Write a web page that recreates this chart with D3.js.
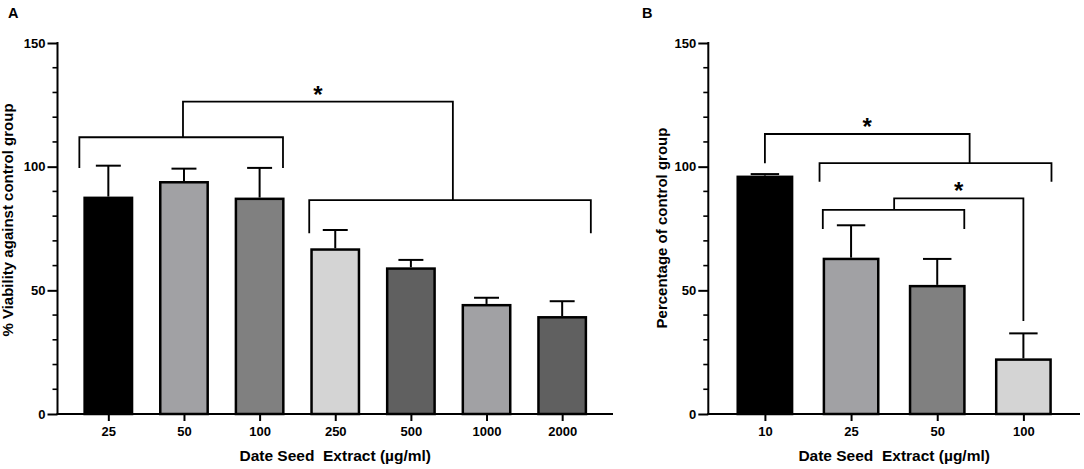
<!DOCTYPE html>
<html><head><meta charset="utf-8">
<script src="https://cdn.jsdelivr.net/npm/d3@7"></script>
<style>
html,body{margin:0;padding:0;background:#fff;}
svg{display:block;font-family:"Liberation Sans",Arial,sans-serif;font-weight:bold;}
</style></head>
<body>
<svg id="chart" width="1084" height="469"></svg>
<script>
// ---------- data ----------
const catsA = ["25","50","100","250","500","1000","2000"];
const meanA = [87.9, 94.2, 87.5, 67.0, 59.3, 44.5, 39.6];
const errA  = [12.5, 5.0, 12.0, 7.4, 3.0, 2.5, 6.0];
const colorsA = ["#000000","#a1a1a4","#808080","#d4d4d4","#606060","#a1a1a4","#606060"];

const catsB = ["10","25","50","100"];
const meanB = [96.4, 63.2, 52.2, 22.5];
const errB  = [0.6, 13.1, 10.5, 10.1];
const colorsB = ["#000000","#a1a1a4","#808080","#d4d4d4"];

const yTicks = [0, 50, 100, 150];
const yMinorTicks = [10,20,30,40,60,70,80,90,110,120,130,140];

// significance brackets: points as [category offset from first, value]
const bracketsA = [
  [[-0.383,99.5],[-0.383,111.9],[2.309,111.9],[2.309,99.5]],
  [[0.987,111.9],[0.987,126.3],[4.555,126.3],[4.555,86.5]],
  [[2.656,73.1],[2.656,86.5],[6.379,86.5],[6.379,73.1]]
];
const starsA = [[2.771,131.4]];
const bracketsB = [
  [[0,101.4],[0,113.2],[2.376,113.2],[2.376,101.4]],
  [[0.634,93.9],[0.634,101.4],[3.326,101.4],[3.326,93.9]],
  [[0.672,74.8],[0.672,82.5],[2.314,82.5],[2.314,74.8]],
  [[1.5,82.5],[1.5,87.2],[3,87.2],[3,37.6]]
];
const starsB = [[1.188,118.6],[2.25,92.6]];

const svg = d3.select("#chart");

function panel(opt){
  const g = svg.append("g");
  const x = d3.scalePoint().domain(opt.cats).range([opt.x0, opt.x1]).padding(opt.pad);
  const y = d3.scaleLinear().domain([0,150]).range([414,43]);
  const step = x.step();
  const bw = step*0.66;
  const xf = f => x(opt.cats[0]) + f*step;

  // error bars
  const eg = g.append("g");
  opt.cats.forEach((c,i)=>{
    const cx = x(c), top = y(opt.mean[i]+opt.err[i]);
    eg.append("line").attr("x1",cx).attr("x2",cx).attr("y1",y(opt.mean[i])).attr("y2",top)
      .attr("stroke","#000").attr("stroke-width",2);
    eg.append("line").attr("x1",cx-bw/4).attr("x2",cx+bw/4).attr("y1",top).attr("y2",top)
      .attr("stroke","#000").attr("stroke-width",2);
  });
  // bars
  g.append("g").selectAll("rect").data(opt.cats).join("rect")
    .attr("x",c=>x(c)-bw/2+1.25).attr("width",bw-2.5)
    .attr("y",(c,i)=>y(opt.mean[i])+1.25).attr("height",(c,i)=>y(0)-y(opt.mean[i])-1.25)
    .attr("fill",(c,i)=>opt.colors[i]).attr("stroke","#000").attr("stroke-width",2.5);

  // brackets
  const line = d3.line().x(d=>xf(d[0])).y(d=>y(d[1]));
  g.append("g").selectAll("path").data(opt.brackets).join("path")
    .attr("d",line).attr("fill","none").attr("stroke","#000").attr("stroke-width",1.8);
  g.append("g").selectAll("text").data(opt.stars).join("text")
    .attr("x",d=>xf(d[0])).attr("y",d=>y(d[1])+14).attr("text-anchor","middle")
    .attr("font-size",24).text("*");

  // y axis
  const ya = g.append("g").attr("transform",`translate(${opt.x0},0)`)
    .call(d3.axisLeft(y).tickValues(yTicks).tickSize(10).tickPadding(2).tickFormat(d3.format("d")));
  ya.select(".domain").remove();
  ya.append("line").attr("x1",0).attr("x2",0).attr("y1",y(150)-1).attr("y2",y(0)+1)
    .attr("stroke","#000").attr("stroke-width",2);
  ya.selectAll(".tick line").attr("stroke-width",2);
  ya.selectAll(".tick text").attr("font-size",13).attr("font-family",null).attr("fill","#000");
  g.append("g").selectAll("line").data(yMinorTicks).join("line")
    .attr("x1",opt.x0-5).attr("x2",opt.x0).attr("y1",d=>y(d)).attr("y2",d=>y(d))
    .attr("stroke","#000").attr("stroke-width",1.6);

  // x axis
  const xa = g.append("g").attr("transform",`translate(0,${y(0)})`)
    .call(d3.axisBottom(x).tickSize(7).tickPadding(6));
  xa.select(".domain").remove();
  xa.append("line").attr("x1",opt.x0-1).attr("x2",opt.x1).attr("y1",0).attr("y2",0)
    .attr("stroke","#000").attr("stroke-width",2);
  xa.selectAll(".tick line").attr("stroke-width",2);
  xa.selectAll(".tick text").attr("font-size",13).attr("font-family",null).attr("fill","#000");

  // titles
  g.append("text").attr("x",(opt.x0+opt.x1)/2+opt.xtOff).attr("y",461).attr("text-anchor","middle")
    .attr("font-size",15.5).style("white-space","pre").text("Date Seed  Extract (\u00b5g/ml)");
  g.append("text").attr("transform",`translate(${opt.ytX},${opt.ytY}) rotate(-90)`)
    .attr("text-anchor","middle").attr("font-size",15).text(opt.ytitle);
  g.append("text").attr("x",opt.lx).attr("y",18).attr("font-size",14.5).text(opt.letter);
}

panel({cats:catsA, mean:meanA, err:errA, colors:colorsA, brackets:bracketsA, stars:starsA,
  x0:57.5, x1:613, pad:0.672, xtOff:0, ytX:13, ytY:220, ytitle:"% Viability against control group",
  letter:"A", lx:8});
panel({cats:catsB, mean:meanB, err:errB, colors:colorsB, brackets:bracketsB, stars:starsB,
  x0:708.3, x1:1080, pad:0.657, xtOff:0, ytX:667, ytY:228, ytitle:"Percentage of control group",
  letter:"B", lx:642});
</script>
</body></html>
